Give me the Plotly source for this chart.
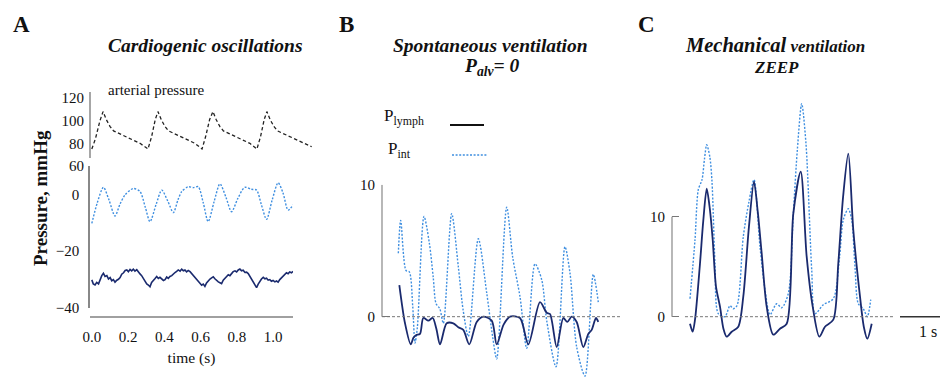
import plotly.graph_objects as go

W, H = 940, 377
SERIF = "Liberation Serif, Times New Roman, Times, serif"
NAVY = "#1a2a6e"
BLUE = "#3f8fe0"
DOTS = "2px,1.6px"

def px(x):
    return x / W

def py(y):
    return 1 - y / H

# ---------------- Panel A data ----------------
t_art = [0.000, 0.020, 0.045, 0.062, 0.080, 0.100, 0.120, 0.160, 0.195, 0.230, 0.266, 0.310,
         0.330, 0.350, 0.365, 0.383, 0.403, 0.423, 0.463, 0.498, 0.533, 0.569, 0.608,
         0.628, 0.650, 0.668, 0.686, 0.706, 0.726, 0.766, 0.801, 0.836, 0.872, 0.911,
         0.931, 0.951, 0.966, 0.984, 1.004, 1.024, 1.064, 1.099, 1.134, 1.170, 1.213]
p_art = [75, 84, 100, 108, 101, 95, 91, 88, 86, 83, 80, 75,
         86, 101, 108, 101, 95, 91, 88, 86, 83, 80, 75,
         86, 101, 108, 101, 95, 91, 88, 86, 83, 80, 75,
         86, 101, 108, 101, 95, 91, 88, 86, 83, 80, 77]

t_int_a = [0.000, 0.030, 0.064, 0.095, 0.128, 0.155, 0.183, 0.229, 0.266, 0.295, 0.321,
           0.355, 0.386, 0.420, 0.450, 0.475, 0.496, 0.532, 0.560, 0.587, 0.615, 0.642,
           0.675, 0.707, 0.740, 0.771, 0.805, 0.844, 0.880, 0.909, 0.935, 0.964,
           0.995, 1.028, 1.055, 1.083, 1.111]
p_int_a = [-10.2, -3.0, 2.5, -2.0, -7.6, -3.5, -0.2, 2.1, 1.0, -4.5, -9.6,
           -3.5, 1.5, -2.5, -6.4, -2.0, 1.0, 2.7, 2.4, 2.7, -3.0, -9.6,
           -2.5, 3.7, -1.0, -6.1, -1.5, 2.5, 1.8, 1.5, -3.5, -8.8,
           -2.0, 4.1, 0.5, -5.5, -3.7]

t_lym_a = [0.000, 0.008, 0.018, 0.027, 0.037, 0.046, 0.055, 0.064, 0.073, 0.083, 0.092,
           0.101, 0.110, 0.119, 0.128, 0.138, 0.147, 0.156, 0.165, 0.175, 0.184, 0.193,
           0.202, 0.211, 0.220, 0.229, 0.238, 0.248, 0.257, 0.266, 0.275, 0.285, 0.294,
           0.303, 0.312, 0.321, 0.330, 0.340, 0.349, 0.358, 0.367, 0.376, 0.385, 0.395,
           0.404, 0.413, 0.422, 0.431, 0.441, 0.450, 0.459, 0.468, 0.477, 0.487, 0.496,
           0.505, 0.514, 0.523, 0.532, 0.542, 0.551, 0.560, 0.569, 0.578, 0.588, 0.597,
           0.606, 0.615, 0.624, 0.633, 0.643, 0.652, 0.661, 0.670, 0.679, 0.688, 0.698,
           0.707, 0.716, 0.725, 0.734, 0.744, 0.753, 0.762, 0.771, 0.780, 0.790, 0.799,
           0.808, 0.817, 0.826, 0.835, 0.845, 0.854, 0.863, 0.872, 0.881, 0.891, 0.900,
           0.909, 0.918, 0.927, 0.936, 0.946, 0.955, 0.964, 0.973, 0.982, 0.991, 1.000,
           1.010, 1.019, 1.028, 1.037, 1.046, 1.056, 1.065, 1.074, 1.083, 1.092, 1.102, 1.111]
p_lym_a = [-30.1, -31.5, -31.9, -31.0, -31.5, -30.0, -28.6, -27.8, -28.9, -28.6, -29.8,
           -29.3, -30.4, -30.0, -30.9, -30.2, -29.9, -29.3, -28.1, -27.6, -26.8, -26.6,
           -27.2, -26.4, -26.9, -26.3, -27.0, -26.5, -27.4, -28.0, -28.6, -29.8, -30.6,
           -31.5, -31.9, -32.5, -31.0, -30.4, -29.6, -28.9, -29.6, -29.2, -29.8, -30.3,
           -30.0, -29.1, -29.6, -28.9, -28.6, -27.9, -27.5, -27.1, -26.6, -27.0, -26.3,
           -26.9, -26.6, -27.3, -26.8, -27.2, -27.9, -28.6, -29.3, -30.2, -31.0, -31.4,
           -32.0, -31.6, -32.4, -31.2, -30.4, -29.8, -29.4, -29.0, -29.7, -30.3, -30.8,
           -31.1, -31.4, -30.2, -29.7, -28.9, -28.3, -28.6, -27.8, -27.2, -26.9, -27.3,
           -26.6, -26.3, -26.9, -26.7, -27.5, -27.4, -27.9, -28.8, -29.9, -30.8, -31.9,
           -32.8, -31.6, -30.4, -29.8, -29.2, -29.7, -29.5, -30.2, -30.0, -30.6, -30.3,
           -30.8, -30.5, -30.9, -30.0, -29.4, -28.6, -28.2, -27.6, -27.9, -27.3, -27.6, -27.1]

time_ticks = [0.0, 0.2, 0.4, 0.6, 0.8, 1.0]
time_ticktext = ["0.0", "0.2", "0.4", "0.6", "0.8", "1.0"]
art_ticks = [60, 80, 100, 120]
low_ticks = [0, -20, -40]

# ---------------- Panel B data (spontaneous ventilation) ----------------
t_int_b = [0.007, 0.061, 0.182, 0.257, 0.334, 0.386, 0.440, 0.591, 0.711, 0.800, 0.864,
           0.950, 1.030, 1.220, 1.370, 1.480, 1.598, 1.825, 2.016, 2.150, 2.243, 2.470,
           2.607, 2.773, 2.925, 3.114, 3.266, 3.380, 3.591, 3.795, 3.909, 4.061, 4.250,
           4.439, 4.552]
p_int_b = [4.8, 7.3, 3.5, 3.4, 0.8, -2.0, -0.8, 7.6, 5.6, 3.0, 1.0,
           0.6, -0.5, 7.8, 3.8, 0.5, -1.5, 5.9, 1.8, -1.5, -3.2, 8.3,
           4.5, 1.5, -2.4, 4.0, 2.8, -0.3, -3.8, 5.3, 3.3, -2.3, -4.5,
           3.2, 1.1]

t_lym_b = [0.030, 0.159, 0.289, 0.350, 0.409, 0.500, 0.575, 0.689, 0.789, 0.870, 0.955,
           1.107, 1.257, 1.370, 1.484, 1.620, 1.789, 1.939, 2.130, 2.243, 2.400, 2.545,
           2.773, 2.961, 3.227, 3.380, 3.455, 3.607, 3.757, 3.848, 3.948, 4.061, 4.211,
           4.325, 4.402, 4.500, 4.552]
p_lym_b = [2.4, -0.5, -2.1, -1.6, -1.4, -1.3, -0.1, -0.3, -0.1, -0.9, -2.1,
           -0.5, -0.5, -0.8, -1.0, -2.1, -0.4, 0.0, -0.3, -2.1, -0.6, 0.0,
           -0.1, -2.1, 1.1, 0.3, 0.2, -2.3, -0.1, -0.4, 0.0, -0.4, -2.3,
           -1.3, -1.0, -0.1, -0.4]

# ---------------- Panel C data (mechanical ventilation, ZEEP) ----------------
t_int_c = [0.000, 0.114, 0.189, 0.273, 0.330, 0.380, 0.450, 0.500, 0.568, 0.643, 0.795,
           0.909, 0.984, 1.068, 1.211, 1.340, 1.455, 1.591, 1.705, 1.818, 1.970, 2.084,
           2.234, 2.348, 2.440, 2.539, 2.636, 2.766, 2.841, 3.030, 3.257, 3.400, 3.484,
           3.598, 3.675, 3.750, 3.825, 3.939, 4.030, 4.107]
p_int_c = [1.8, 7.7, 12.7, 13.7, 15.8, 17.2, 16.0, 13.5, 5.3, 0.3, 0.0,
           1.1, 0.8, 1.1, 8.0, 11.5, 13.7, 7.0, 2.7, 0.2, 1.3, 0.9,
           2.3, 10.3, 16.7, 21.3, 17.3, 4.7, 0.3, 1.2, 1.8, 6.0, 9.7,
           10.8, 9.7, 5.0, 1.3, 0.8, 0.0, 1.7]

t_lym_c = [0.000, 0.061, 0.114, 0.227, 0.300, 0.380, 0.450, 0.516, 0.591, 0.682, 0.760,
           0.834, 0.948, 1.098, 1.211, 1.340, 1.455, 1.540, 1.630, 1.743, 1.893, 2.045,
           2.198, 2.348, 2.516, 2.652, 2.789, 2.939, 3.068, 3.257, 3.370, 3.480, 3.598,
           3.711, 3.864, 3.950, 4.030, 4.130]
p_lym_c = [-0.7, -1.5, -0.3, 5.3, 9.5, 12.8, 10.8, 7.7, 3.0, 1.0, -1.2,
           -2.0, -1.5, -1.0, 2.0, 9.0, 13.5, 10.5, 6.3, 1.0, -1.8, -1.2,
           -0.7, 10.3, 14.5, 6.0, 1.0, -2.0, -1.0, -0.3, 5.3, 12.0, 16.3,
           8.7, 2.0, -1.0, -2.2, -0.7]

fig = go.Figure()

# Panel A traces
fig.add_trace(go.Scatter(x=t_art, y=p_art, xaxis="x2", yaxis="y2", mode="lines",
                         line=dict(color="#222222", width=1.3, dash="3.5px,2.5px"),
                         showlegend=False, hoverinfo="skip"))
fig.add_trace(go.Scatter(x=t_int_a, y=p_int_a, xaxis="x", yaxis="y", mode="lines",
                         line=dict(color=BLUE, width=1.4, dash=DOTS, shape="spline", smoothing=0.8),
                         showlegend=False, hoverinfo="skip"))
fig.add_trace(go.Scatter(x=t_lym_a, y=p_lym_a, xaxis="x", yaxis="y", mode="lines",
                         line=dict(color=NAVY, width=1.6),
                         showlegend=False, hoverinfo="skip"))

# Panel B traces
fig.add_trace(go.Scatter(x=t_int_b, y=p_int_b, xaxis="x3", yaxis="y3", mode="lines",
                         line=dict(color=BLUE, width=1.4, dash=DOTS, shape="spline", smoothing=0.8),
                         showlegend=False, hoverinfo="skip"))
fig.add_trace(go.Scatter(x=t_lym_b, y=p_lym_b, xaxis="x3", yaxis="y3", mode="lines",
                         line=dict(color=NAVY, width=1.8, shape="spline", smoothing=0.8),
                         showlegend=False, hoverinfo="skip"))

# Panel C traces
fig.add_trace(go.Scatter(x=t_int_c, y=p_int_c, xaxis="x4", yaxis="y4", mode="lines",
                         line=dict(color=BLUE, width=1.4, dash=DOTS, shape="spline", smoothing=0.8),
                         showlegend=False, hoverinfo="skip"))
fig.add_trace(go.Scatter(x=t_lym_c, y=p_lym_c, xaxis="x4", yaxis="y4", mode="lines",
                         line=dict(color=NAVY, width=1.8, shape="spline", smoothing=0.8),
                         showlegend=False, hoverinfo="skip"))

tickfont = dict(family=SERIF, size=15, color="#111")
hidden = dict(visible=False, showgrid=False, zeroline=False, fixedrange=True, automargin=False)

fig.update_layout(
    template="none",
    width=W, height=H,
    margin=dict(l=0, r=0, t=0, b=0, autoexpand=False),
    paper_bgcolor="white", plot_bgcolor="white",
    font=dict(family=SERIF, color="#111"),
    showlegend=False,
    xaxis=dict(domain=[px(90), px(293)], range=[-0.01, 1.11], anchor="free", position=py(317),
               showline=True, linecolor="#a0a0a0", linewidth=2, showgrid=False, zeroline=False,
               tickvals=time_ticks, ticktext=time_ticktext, ticks="", tickfont=tickfont,
               ticklabelstandoff=6, automargin=False,
               title=dict(text="time (s)", font=dict(family=SERIF, size=15.5, color="#111"), standoff=7)),
    yaxis=dict(domain=[py(308), py(166)], range=[-40, 10], anchor="x",
               showline=True, linecolor="#888", linewidth=1.5, showgrid=False, zeroline=False,
               tickvals=low_ticks, ticks="", tickfont=tickfont, ticklabelstandoff=6, automargin=False),
    xaxis2=dict(domain=[px(90), px(312)], range=[-0.01, 1.2148], anchor="y2", **hidden),
    yaxis2=dict(domain=[py(166), py(92)], range=[60, 125.3], anchor="free", position=px(90),
                showline=False, showgrid=False, zeroline=False, automargin=False,
                tickvals=art_ticks, ticks="", tickfont=tickfont, ticklabelstandoff=6),
    xaxis3=dict(domain=[px(382), px(622)], range=[-0.364, 5.091], anchor="y3", **hidden),
    yaxis3=dict(domain=[0, py(184.7)], range=[-4.57, 10], anchor="x3",
                showline=False, showgrid=False, zeroline=False, automargin=False,
                tickvals=[0, 10], ticks="inside", ticklen=8, tickcolor="#777", tickwidth=1.2,
                tickfont=tickfont, ticklabelstandoff=6),
    xaxis4=dict(domain=[px(672), 1], range=[-0.409, 5.682], anchor="y4", **hidden),
    yaxis4=dict(domain=[py(345), py(95)], range=[-2.83, 22.17], anchor="x4",
                showline=False, showgrid=False, zeroline=False, automargin=False,
                tickvals=[0, 10], ticks="inside", ticklen=7, tickcolor="#777", tickwidth=1.2,
                tickfont=tickfont, ticklabelstandoff=6),
)

shapes = [
    dict(type="line", xref="paper", yref="y2", x0=px(90), x1=px(90), y0=67, y1=125.3,
         line=dict(color="#888", width=1.5)),
    dict(type="line", xref="paper", yref="y3", x0=px(382), x1=px(382), y0=0, y1=10,
         line=dict(color="#888", width=1.2)),
    dict(type="line", xref="x3", yref="y3", x0=-0.364, x1=5.09, y0=0, y1=0,
         line=dict(color="#777", width=1, dash="3px,2px")),
    dict(type="line", xref="paper", yref="y4", x0=px(672), x1=px(672), y0=0, y1=10,
         line=dict(color="#888", width=1.2)),
    dict(type="line", xref="x4", yref="y4", x0=-0.114, x1=4.614, y0=0, y1=0,
         line=dict(color="#777", width=1, dash="3px,2px")),
    dict(type="line", xref="x4", yref="y4", x0=4.773, x1=5.773, y0=0, y1=0,
         line=dict(color="#333", width=1.5)),
    dict(type="line", xref="paper", yref="paper", x0=px(450), x1=px(484), y0=py(125), y1=py(125),
         line=dict(color="#111", width=2)),
    dict(type="line", xref="paper", yref="paper", x0=px(452), x1=px(487), y0=py(155), y1=py(155),
         line=dict(color=BLUE, width=1.4, dash=DOTS)),
]
fig.update_layout(shapes=shapes)

def ann(text, x, y, size, xanchor="center", **kw):
    return dict(text=text, x=px(x), y=py(y), xref="paper", yref="paper", showarrow=False,
                xanchor=xanchor, yanchor="middle", font=dict(family=SERIF, size=size, color="#111"), **kw)

annotations = [
    ann("<b>A</b>", 21, 24, 23),
    ann("<b>B</b>", 346, 24, 23),
    ann("<b>C</b>", 646, 24, 23),
    ann("<b><i>Cardiogenic oscillations</i></b>", 205, 45, 19.5),
    ann("<b><i>Spontaneous ventilation</i></b>", 491, 45, 19.5),
    ann("<b><i>P<sub>alv</sub>= 0</i></b>", 492, 67, 19.5),
    ann("<b><i><span style='font-size:20.5px'>Mechanical</span> ventilation</i></b>", 775, 45, 17),
    ann("<b><i>ZEEP</i></b>", 776, 67, 17),
    ann("arterial pressure", 106, 90, 15, xanchor="left"),
    ann("<b>Pressure, mmHg</b>", 41, 198, 19, textangle=-90),
    ann("P<sub>lymph</sub>", 382, 117, 17, xanchor="left"),
    ann("P<sub>int</sub>", 386, 150, 17, xanchor="left"),
    dict(text="1 s", x=5.41, y=0, xref="x4", yref="y4", showarrow=False, yshift=-15,
         font=dict(family=SERIF, size=16, color="#111")),
]
fig.update_layout(annotations=annotations)

fig.write_html("out.html")
